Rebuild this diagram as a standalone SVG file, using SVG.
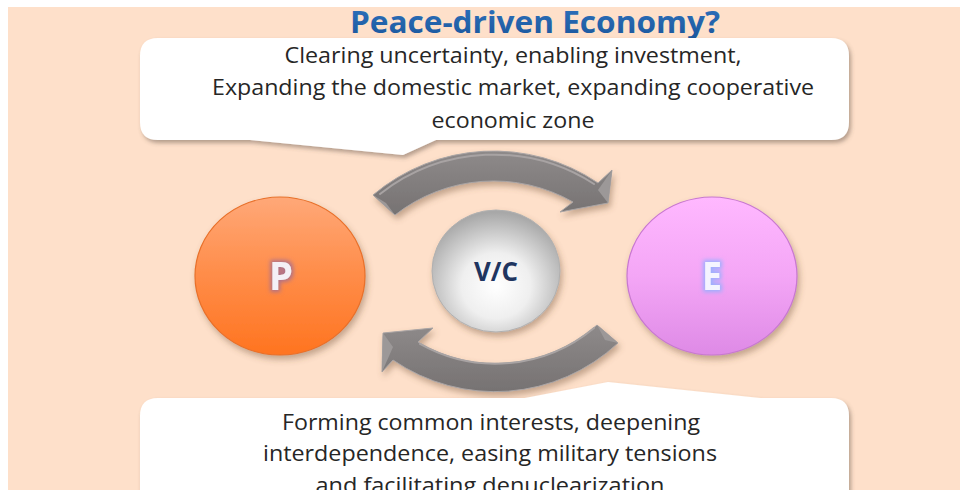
<svg xmlns="http://www.w3.org/2000/svg" width="960" height="490" viewBox="0 0 960 490">
  <style>
    .callout { fill: #ffffff; filter: url(#boxShadow); }
    .body { font-family: "Open Sans", "Noto Sans", "Liberation Sans", sans-serif; font-size: 22px; fill: #262626; text-anchor: middle; }
    .arrow { fill: url(#arrowGrad); stroke: #a9a4a4; stroke-width: 1; filter: url(#arrowShadow); }
    .bevel { fill: none; stroke: #a8a3a3; stroke-width: 2; stroke-linecap: round; }
    .facet { fill: #9c9898; }
    .letter { font-family: "Open Sans", "Liberation Sans", sans-serif; font-weight: bold; text-anchor: middle; }
  </style>
  <defs>
    <filter id="boxShadow" x="-5%" y="-20%" width="110%" height="140%">
      <feDropShadow dx="2" dy="3" stdDeviation="2" flood-color="#5a4a40" flood-opacity="0.45"/>
    </filter>
    <filter id="arrowShadow" x="-10%" y="-20%" width="120%" height="150%">
      <feDropShadow dx="2" dy="4" stdDeviation="3" flood-color="#7a5a40" flood-opacity="0.45"/>
    </filter>
    <filter id="ballShadow" x="-10%" y="-10%" width="125%" height="125%">
      <feDropShadow dx="2" dy="4" stdDeviation="3" flood-color="#6a4a30" flood-opacity="0.4"/>
    </filter>
    <filter id="glowP" x="-30%" y="-30%" width="160%" height="160%">
      <feMorphology in="SourceAlpha" operator="dilate" radius="1.5" result="d"/>
      <feGaussianBlur in="d" stdDeviation="2" result="b"/>
      <feFlood flood-color="#9a6a9a" flood-opacity="0.8"/>
      <feComposite in2="b" operator="in" result="g"/>
      <feMerge><feMergeNode in="g"/><feMergeNode in="SourceGraphic"/></feMerge>
    </filter>
    <filter id="glowE" x="-30%" y="-30%" width="160%" height="160%">
      <feMorphology in="SourceAlpha" operator="dilate" radius="1.5" result="d"/>
      <feGaussianBlur in="d" stdDeviation="2" result="b"/>
      <feFlood flood-color="#8fb0ff" flood-opacity="0.9"/>
      <feComposite in2="b" operator="in" result="g"/>
      <feMerge><feMergeNode in="g"/><feMergeNode in="SourceGraphic"/></feMerge>
    </filter>
    <linearGradient id="pGrad" x1="0" y1="0" x2="0" y2="1">
      <stop offset="0" stop-color="#ffa878"/>
      <stop offset="0.5" stop-color="#ff8c48"/>
      <stop offset="1" stop-color="#ff7420"/>
    </linearGradient>
    <linearGradient id="eGrad" x1="0" y1="0" x2="0" y2="1">
      <stop offset="0" stop-color="#ffb8ff"/>
      <stop offset="0.5" stop-color="#f4a6f6"/>
      <stop offset="1" stop-color="#de8ae6"/>
    </linearGradient>
    <radialGradient id="vcGrad" cx="0.5" cy="0.62" r="0.6">
      <stop offset="0" stop-color="#ffffff"/>
      <stop offset="0.45" stop-color="#efefef"/>
      <stop offset="1" stop-color="#a8a8a8"/>
    </radialGradient>
    <linearGradient id="arrowGrad" x1="0" y1="0" x2="0" y2="1">
      <stop offset="0" stop-color="#8e8a8a"/>
      <stop offset="1" stop-color="#767272"/>
    </linearGradient>
    <linearGradient id="titleGrad" x1="0" y1="0" x2="0" y2="1">
      <stop offset="0" stop-color="#2f74c0"/>
      <stop offset="1" stop-color="#1a559a"/>
    </linearGradient>
    <linearGradient id="ruleGrad" x1="0" y1="0" x2="1" y2="0">
      <stop offset="0" stop-color="#2a6fc0" stop-opacity="0"/>
      <stop offset="0.25" stop-color="#2a6fc0" stop-opacity="1"/>
      <stop offset="0.75" stop-color="#2a6fc0" stop-opacity="1"/>
      <stop offset="1" stop-color="#2a6fc0" stop-opacity="0"/>
    </linearGradient>
  </defs>

  <!-- page -->
  <rect x="0" y="0" width="960" height="490" fill="#ffffff"/>
  <rect x="8" y="7" width="952" height="483" fill="#fee0ca"/>

  <!-- heading -->
  <g id="title">
    <text x="535" y="33" font-family="Open Sans, Liberation Sans, sans-serif" font-weight="bold" font-size="30" fill="url(#titleGrad)" text-anchor="middle" textLength="370" lengthAdjust="spacingAndGlyphs">Peace-driven Economy?</text>
    <rect x="345" y="41" width="375" height="2.5" fill="url(#ruleGrad)"/>
  </g>

  <!-- upper speech bubble -->
  <g id="callout-top">
    <path class="callout" d="M158,38 H831 Q849,38 849,56 V122 Q849,140 831,140 H436 L403,155 L250,140 H158 Q140,140 140,122 V56 Q140,38 158,38 Z"/>
    <text class="body" x="513" y="63" textLength="457" lengthAdjust="spacingAndGlyphs">Clearing uncertainty, enabling investment,</text>
    <text class="body" x="513" y="95" textLength="602" lengthAdjust="spacingAndGlyphs">Expanding the domestic market, expanding cooperative</text>
    <text class="body" x="513" y="128" textLength="163" lengthAdjust="spacingAndGlyphs">economic zone</text>
  </g>

  <!-- circular flow arrows -->
  <g id="connectors">
    <path class="arrow" d="M373,195 A187,187 0 0 1 598,183 L612,170 L608,203 L560,212 L573,202 A160,160 0 0 0 395,215 Z"/>
    <path class="bevel" d="M380,194 A185,185 0 0 1 594,184"/>
    <path class="facet" d="M373,195 L395,215 L386,203 Z"/>
    <path class="facet" d="M612,170 L608,203 L598,190 Z"/>

    <path class="arrow" d="M597,325 L618,343 A180,180 0 0 1 393,360 L382,372 L383,333 L433,328 L418,342 A152,152 0 0 0 597,325 Z"/>
    <path class="bevel" d="M420,344 A154,154 0 0 0 594,328"/>
    <path class="facet" d="M597,325 L618,343 L605,340 Z"/>
    <path class="facet" d="M383,333 L382,372 L393,347 Z"/>
  </g>

  <!-- P node -->
  <g id="node-p">
    <ellipse cx="280" cy="276" rx="85" ry="79" fill="url(#pGrad)" stroke="#e8702a" stroke-width="1.2" filter="url(#ballShadow)"/>
    <text class="letter" x="281" y="290" font-size="40" fill="#f4f0f6" filter="url(#glowP)" textLength="24" lengthAdjust="spacingAndGlyphs">P</text>
  </g>

  <!-- V/C node -->
  <g id="node-vc">
    <ellipse cx="496" cy="271" rx="64" ry="61" fill="url(#vcGrad)" stroke="#b0b0b0" stroke-width="1" filter="url(#ballShadow)"/>
    <text class="letter" x="496" y="281" font-size="26" fill="#1f3560" textLength="44" lengthAdjust="spacingAndGlyphs">V/C</text>
  </g>

  <!-- E node -->
  <g id="node-e">
    <ellipse cx="712" cy="276" rx="85" ry="79" fill="url(#eGrad)" stroke="#c878d0" stroke-width="1.2" filter="url(#ballShadow)"/>
    <text class="letter" x="712" y="290" font-size="40" fill="#f4f4ff" filter="url(#glowE)" textLength="20" lengthAdjust="spacingAndGlyphs">E</text>
  </g>

  <!-- lower speech bubble -->
  <g id="callout-bottom">
    <path class="callout" d="M158,398 H525 L608,382 L760,398 H831 Q849,398 849,416 V520 H140 V416 Q140,398 158,398 Z"/>
    <text class="body" x="491" y="430" textLength="418" lengthAdjust="spacingAndGlyphs">Forming common interests, deepening</text>
    <text class="body" x="490" y="461" textLength="454" lengthAdjust="spacingAndGlyphs">interdependence, easing military tensions</text>
    <text class="body" x="490" y="493" textLength="349" lengthAdjust="spacingAndGlyphs">and facilitating denuclearization</text>
  </g>
</svg>
